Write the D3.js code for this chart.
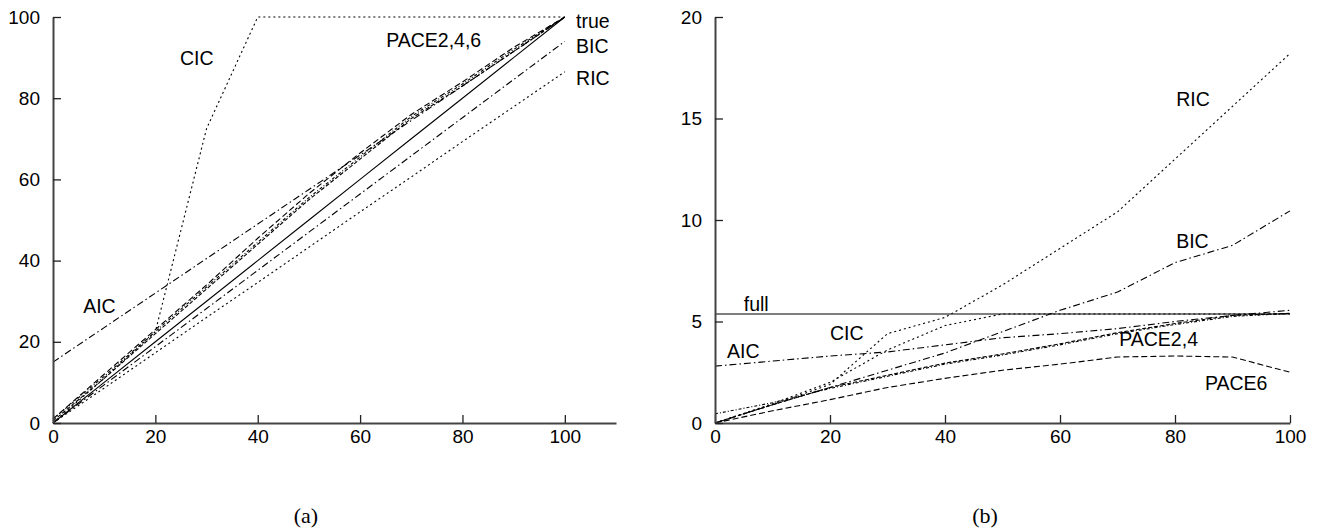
<!DOCTYPE html>
<html>
<head>
<meta charset="utf-8">
<script src="https://cdn.jsdelivr.net/npm/d3@7/dist/d3.min.js"></script>
<style>
  html, body { margin: 0; padding: 0; background: #fff; }
  svg { display: block; }
  text { font-family: "Liberation Sans", Arial, sans-serif; fill: #000; }
  .cap { font-family: "Liberation Serif", "DejaVu Serif", serif; }
</style>
</head>
<body>
<svg id="chart" width="1323" height="531"></svg>
<script>
// ---------- data ----------
const xs = [0, 10, 20, 30, 40, 50, 60, 70, 80, 90, 100];

// panel (a): number of selected variables
const aTrue  = [0, 10, 20, 30, 40, 50, 60, 70, 80, 90, 100];
const aAIC   = [15, 23.5, 32, 40.5, 49, 57.5, 66, 74.5, 83, 91.5, 100];
const aBIC   = [0, 9.4, 18.8, 28.2, 37.6, 47, 56.4, 65.8, 75.2, 84.6, 94];
const aRIC   = [0, 8.6, 17.3, 26, 34.6, 43.3, 52, 60.6, 69.3, 77.9, 86.5];
const aCIC   = [0, 11, 22.5, 72.5, 100, 100, 100, 100, 100, 100, 100];
const aPACE2 = [1, 11.5, 22.5, 33.5, 44.5, 55.5, 65.5, 75.5, 83.5, 92, 100];
const aPACE4 = [0.5, 11, 22, 33, 44, 55, 65, 75, 83, 91.5, 100];
const aPACE6 = [1, 12, 23, 34, 45.5, 56.5, 66.5, 76, 84, 92.5, 100];

// panel (b): loss
const bFull  = [5.37, 5.37, 5.37, 5.37, 5.37, 5.37, 5.37, 5.37, 5.37, 5.37, 5.37];
const bAIC   = [2.8, 3.05, 3.3, 3.5, 3.85, 4.2, 4.4, 4.65, 5.0, 5.3, 5.55];
const bBIC   = [0, 0.9, 1.75, 2.6, 3.45, 4.5, 5.55, 6.45, 7.9, 8.75, 10.45];
const bRIC   = [0, 0.9, 1.9, 4.4, 5.2, 6.8, 8.6, 10.4, 13.0, 15.6, 18.2];
const bCIC   = [0, 0.95, 2.0, 3.6, 4.8, 5.37, 5.37, 5.37, 5.37, 5.37, 5.37];
const bPACE2 = [0.45, 1.0, 1.7, 2.3, 2.9, 3.35, 3.85, 4.4, 4.85, 5.25, 5.4];
const bPACE4 = [0, 0.9, 1.75, 2.35, 2.95, 3.4, 3.9, 4.45, 4.9, 5.3, 5.4];
const bPACE6 = [0, 0.6, 1.15, 1.75, 2.2, 2.6, 2.9, 3.25, 3.3, 3.25, 2.5];

const aTicksX = [0, 20, 40, 60, 80, 100];
const aTicksY = [0, 20, 40, 60, 80, 100];
const bTicksX = [0, 20, 40, 60, 80, 100];
const bTicksY = [0, 5, 10, 15, 20];

// label annotations (data coordinates)
const aLabelText = ["CIC", "PACE2,4,6", "true", "BIC", "RIC", "AIC"];
const aLabelX    = [24.8, 65.1, 102.2, 102.2, 102.2, 5.9];
const aLabelY    = [88.2, 92.5, 97.2, 91.1, 83.3, 27.1];
const bLabelText = ["full", "CIC", "AIC", "RIC", "BIC", "PACE2,4", "PACE6"];
const bLabelX    = [5.0, 20.0, 2.1, 80.2, 80.2, 70.3, 85.2];
const bLabelY    = [5.5, 4.1, 3.2, 15.6, 8.6, 3.8, 1.64];

// ---------- styles ----------
const SOLID = null, DOT = "2,3", DASHDOT = "7,3,1.5,3", DASH = "6,3", FINE = "3,2,1,2", FINE2 = "4,2";

const svg = d3.select("#chart");
const FS = 19;

function panel(cfg) {
  const x = d3.scaleLinear().domain(cfg.xDomain).range(cfg.xRange);
  const y = d3.scaleLinear().domain(cfg.yDomain).range([423, 17]);
  const g = svg.append("g");

  const line = d3.line().x((d, i) => x(xs[i])).y(d => y(d));
  cfg.series.forEach(s => {
    g.append("path").datum(s.v)
      .attr("d", line)
      .attr("fill", "none")
      .attr("stroke", "#000")
      .attr("stroke-width", 1.1)
      .attr("stroke-dasharray", s.dash);
  });

  const ax = g.append("g").attr("transform", "translate(0,423)")
    .call(d3.axisBottom(x).tickValues(cfg.xTicks).tickSizeInner(-8).tickSizeOuter(0).tickPadding(7));
  const ay = g.append("g").attr("transform", `translate(${cfg.xRange[0]},0)`)
    .call(d3.axisLeft(y).tickValues(cfg.yTicks).tickSizeInner(-8).tickSizeOuter(0).tickPadding(13));
  [ax, ay].forEach(a => {
    a.select(".domain").attr("stroke", "#444").attr("stroke-width", 2);
    a.selectAll(".tick line").attr("stroke", "#222").attr("stroke-width", 1.3);
    a.selectAll(".tick text").attr("font-size", FS).attr("fill", "#000")
      .attr("font-family", "Liberation Sans, Arial, sans-serif");
  });

  cfg.labels.text.forEach((t, i) => {
    g.append("text")
      .attr("x", x(cfg.labels.x[i]))
      .attr("y", y(cfg.labels.y[i]))
      .attr("font-size", FS + 0.5)
      .text(t);
  });

  g.append("text").attr("class", "cap")
    .attr("x", cfg.capX).attr("y", 523)
    .attr("text-anchor", "middle")
    .attr("font-size", 22)
    .text(cfg.caption);
}

panel({
  xDomain: [0, 110], xRange: [53, 616], yDomain: [0, 100],
  xTicks: aTicksX, yTicks: aTicksY,
  series: [
    { v: aTrue, dash: SOLID },
    { v: aAIC, dash: DASHDOT },
    { v: aBIC, dash: DASHDOT },
    { v: aRIC, dash: DOT },
    { v: aCIC, dash: DOT },
    { v: aPACE2, dash: FINE },
    { v: aPACE4, dash: FINE2 },
    { v: aPACE6, dash: DASH }
  ],
  labels: { text: aLabelText, x: aLabelX, y: aLabelY },
  caption: "(a)", capX: 306
});

panel({
  xDomain: [0, 100], xRange: [715, 1290], yDomain: [0, 20],
  xTicks: bTicksX, yTicks: bTicksY,
  series: [
    { v: bFull, dash: SOLID },
    { v: bAIC, dash: DASHDOT },
    { v: bBIC, dash: DASHDOT },
    { v: bRIC, dash: DOT },
    { v: bCIC, dash: DOT },
    { v: bPACE2, dash: FINE },
    { v: bPACE4, dash: FINE2 },
    { v: bPACE6, dash: DASH }
  ],
  labels: { text: bLabelText, x: bLabelX, y: bLabelY },
  caption: "(b)", capX: 985
});
</script>
</body>
</html>
